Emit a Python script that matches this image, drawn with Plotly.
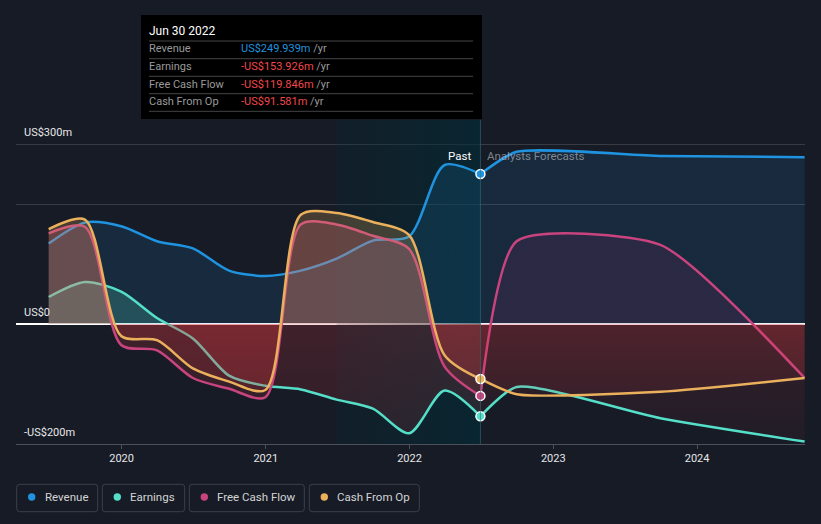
import plotly.graph_objects as go

# ---------------- data ----------------
PAST_DATES = ["2019-06-30", "2019-09-30", "2019-12-31", "2020-03-31", "2020-06-30",
              "2020-09-30", "2020-12-31", "2021-03-31", "2021-06-30", "2021-09-30",
              "2021-12-31", "2022-03-31", "2022-06-30"]
FORECAST_DATES = ["2022-06-30", "2022-09-30", "2023-09-30", "2024-09-30"]

REVENUE_PAST = [134, 169, 163, 138, 126, 89, 80, 89, 109, 139, 146, 265, 249.939]
EARNINGS_PAST = [45, 70, 54, 10, -24, -86, -103, -109, -126, -141, -182, -111, -153.926]
FCF_PAST = [151, 162, -35, -44, -90, -108, -122, 166, 166, 147, 125, -71, -119.846]
CFO_PAST = [158, 174, -20, -27, -74, -96, -110, 182, 185, 170, 148, -52, -91.581]

REVENUE_FC = [249.939, 287, 280, 278]
EARNINGS_FC = [-153.926, -105, -157, -196]
FCF_FC = [-119.846, 138, 132, -90]
CFO_FC = [-91.581, -117, -113, -90]

SERIES_NAMES = ["Revenue", "Earnings", "Free Cash Flow", "Cash From Op"]
Y_TICK_VALUES = [300, 0, -200]
Y_TICK_LABELS = ["US$300m", "US$0", "-US$200m"]
Y_GRID_VALUES = [200, 300]
X_TICK_VALUES = ["2020-01-01", "2021-01-01", "2022-01-01", "2023-01-01", "2024-01-01"]
X_TICK_LABELS = ["2020", "2021", "2022", "2023", "2024"]
TOOLTIP_DATE = "Jun 30 2022"

# ---------------- style ----------------
W, H = 821, 524
PLOT_L, PLOT_R, PLOT_T, PLOT_B = 16, 805, 120, 444
Y_MIN, Y_MAX = -200, 340
X_RANGE = ["2019-04-08", "2024-10-01"]
BG = "#161b26"
FONT = "Roboto, 'Open Sans', sans-serif"
LINE_COLORS = ["#1f93df", "#55dfc8", "#c9447f", "#ebb05c"]
POS_RGB = [(35, 148, 223), (82, 227, 201), (208, 69, 127), (239, 177, 90)]
FC_POS_RGB = [(35, 148, 223), (82, 227, 201), (150, 40, 110), (239, 177, 90)]
NEG_RGB = (225, 55, 60)
NEG_COLOR_TEXT = "#f2474a"


def rgba(c, a):
    return f"rgba({c[0]},{c[1]},{c[2]},{a})"


Z = (0 - Y_MIN) / (Y_MAX - Y_MIN)


def grad(pos, pa, neg_zero, neg_bottom):
    return dict(type="vertical", start=Y_MIN, stop=Y_MAX, colorscale=[
        [0, rgba(NEG_RGB, neg_bottom)],
        [Z, rgba(NEG_RGB, neg_zero)],
        [Z + 0.0001, rgba(pos, pa)],
        [1, rgba(pos, pa)],
    ])


def px(x):
    return (x - PLOT_L) / (PLOT_R - PLOT_L)


def py(y):
    return (PLOT_B - y) / (PLOT_B - PLOT_T)


def rounded_rect(x0, y0, x1, y1, r):
    pts = [("M", x0 + r, y0), ("L", x1 - r, y0), ("Q", x1, y0, x1, y0 + r),
           ("L", x1, y1 - r), ("Q", x1, y1, x1 - r, y1), ("L", x0 + r, y1),
           ("Q", x0, y1, x0, y1 - r), ("L", x0, y0 + r), ("Q", x0, y0, x0 + r, y0)]
    s = ""
    for p in pts:
        cmd = p[0]
        coords = p[1:]
        parts = []
        for i in range(0, len(coords), 2):
            parts.append(f"{px(coords[i]):.5f},{py(coords[i + 1]):.5f}")
        s += cmd + " " + " ".join(parts) + " "
    return s + "Z"


past = [REVENUE_PAST, EARNINGS_PAST, FCF_PAST, CFO_PAST]
fc = [REVENUE_FC, EARNINGS_FC, FCF_FC, CFO_FC]

fig = go.Figure()

# highlighted past-year band
band_x0, band_x1 = PAST_DATES[-5], PAST_DATES[-1]
fig.add_trace(go.Scatter(
    x=[band_x0, band_x1, band_x1, band_x0, band_x0],
    y=[Y_MIN, Y_MIN, Y_MAX, Y_MAX, Y_MIN],
    mode="none", fill="toself", hoverinfo="skip", showlegend=False,
    fillgradient=dict(type="horizontal", colorscale=[
        [0, "rgba(0,45,55,0.18)"], [1, "rgba(0,45,55,0.6)"]]),
))

past_alpha = [0.13, 0.2, 0.22, 0.22]
for i in range(4):
    fig.add_trace(go.Scatter(
        x=PAST_DATES, y=past[i], mode="lines", fill="tozeroy",
        line=dict(color=LINE_COLORS[i], width=2.5, shape="spline", smoothing=0.8),
        fillgradient=grad(POS_RGB[i], past_alpha[i], 0.2, 0.12),
        hoverinfo="skip", showlegend=False,
    ))

fc_alpha = [0.12, 0.12, 0.15, 0.12]
for i in range(4):
    fig.add_trace(go.Scatter(
        x=FORECAST_DATES, y=fc[i], mode="lines", fill="tozeroy",
        line=dict(color=LINE_COLORS[i], width=2.5, shape="spline", smoothing=0.6),
        fillgradient=grad(FC_POS_RGB[i], fc_alpha[i], 0.15, 0.05),
        hoverinfo="skip", showlegend=False,
    ))

for i in range(4):
    fig.add_trace(go.Scatter(
        x=[PAST_DATES[-1]], y=[past[i][-1]], mode="markers",
        marker=dict(color=LINE_COLORS[i], size=9, line=dict(color="white", width=1.5)),
        hoverinfo="skip", showlegend=False,
    ))

shapes = []
annotations = []

# current-date vertical line
shapes.append(dict(type="line", xref="x", yref="paper", x0=PAST_DATES[-1], x1=PAST_DATES[-1],
                   y0=0, y1=1, line=dict(color="rgba(50,110,130,0.6)", width=1), layer="above"))

# y labels
for v, t in zip(Y_TICK_VALUES, Y_TICK_LABELS):
    annotations.append(dict(x=px(22), xref="paper", y=v, yref="y", text=t, showarrow=False,
                            xanchor="left", yanchor="middle", yshift=12,
                            font=dict(color="#e8e8e8", size=11, family=FONT)))

# Past / Analysts Forecasts labels
annotations.append(dict(x=PAST_DATES[-1], xref="x", y=280, yref="y", text="Past", showarrow=False,
                        xanchor="right", yanchor="middle", xshift=-7,
                        font=dict(color="#ffffff", size=11.5, family=FONT)))
annotations.append(dict(x=PAST_DATES[-1], xref="x", y=280, yref="y", text="Analysts Forecasts",
                        showarrow=False, xanchor="left", yanchor="middle", xshift=5,
                        font=dict(color="rgba(200,200,205,0.6)", size=11.5, family=FONT)))

# tooltip
shapes.append(dict(type="rect", xref="paper", yref="paper", x0=px(141), x1=px(482),
                   y0=py(119), y1=py(15), fillcolor="#000000", line=dict(width=0), layer="above"))
annotations.append(dict(x=px(147), xref="paper", y=py(31), yref="paper", text=TOOLTIP_DATE,
                        showarrow=False, xanchor="left", yanchor="middle",
                        font=dict(color="#ffffff", size=12, family=FONT)))
row_y = [49, 66.7, 84.3, 101.3]
sep_y = [41, 58.7, 76.3, 93.7, 111.3]
for yy in sep_y:
    shapes.append(dict(type="line", xref="paper", yref="paper", x0=px(149), x1=px(473),
                       y0=py(yy), y1=py(yy), line=dict(color="#444444", width=1), layer="above"))
for i in range(4):
    v = past[i][-1]
    txt = ("-" if v < 0 else "") + f"US${abs(v):.3f}m"
    col = LINE_COLORS[0] if v >= 0 else NEG_COLOR_TEXT
    annotations.append(dict(x=px(147), xref="paper", y=py(row_y[i]), yref="paper",
                            text=SERIES_NAMES[i], showarrow=False, xanchor="left", yanchor="middle",
                            font=dict(color="#9a9a9a", size=11, family=FONT)))
    annotations.append(dict(x=px(239), xref="paper", y=py(row_y[i]), yref="paper",
                            text=f"<span style='color:{col}'>{txt}</span> /yr", showarrow=False,
                            xanchor="left", yanchor="middle",
                            font=dict(color="#9a9a9a", size=11, family=FONT)))

# legend
boxes = [(16.7, 97.7), (102.3, 184.7), (189.3, 304.3), (309.3, 419.3)]
for i, (x0, x1) in enumerate(boxes):
    shapes.append(dict(type="path", xref="paper", yref="paper",
                       path=rounded_rect(x0, 484.3, x1, 511.7, 3),
                       line=dict(color="#3b404a", width=1), fillcolor=BG, layer="above"))
    cx, cy, r = x0 + 15, 497, 3.7
    shapes.append(dict(type="circle", xref="paper", yref="paper", x0=px(cx - r), x1=px(cx + r),
                       y0=py(cy + r), y1=py(cy - r), fillcolor=LINE_COLORS[i],
                       line=dict(width=0), layer="above"))
    annotations.append(dict(x=px(x0 + 26), xref="paper", y=py(496.5), yref="paper",
                            text=SERIES_NAMES[i], showarrow=False, xanchor="left", yanchor="middle",
                            font=dict(color="#d4d4d4", size=11.5, family=FONT)))

fig.update_layout(
    width=W, height=H,
    margin=dict(l=PLOT_L, r=W - PLOT_R, t=PLOT_T, b=H - PLOT_B),
    paper_bgcolor=BG, plot_bgcolor=BG,
    showlegend=False, hovermode=False,
    font=dict(family=FONT, color="#e0e0e0"),
    shapes=shapes, annotations=annotations,
    xaxis=dict(type="date", range=X_RANGE, showgrid=False, zeroline=False,
               showline=True, linecolor="#4b5059", linewidth=1,
               ticks="outside", ticklen=4, tickcolor="#4b5059",
               tickvals=X_TICK_VALUES, ticktext=X_TICK_LABELS,
               tickfont=dict(color="#e6e6e6", size=11, family=FONT), fixedrange=True),
    yaxis=dict(range=[Y_MIN, Y_MAX], tickvals=Y_GRID_VALUES, showticklabels=False,
               showgrid=True, gridcolor="rgba(255,255,255,0.14)", gridwidth=1,
               zeroline=True, zerolinecolor="#ffffff", zerolinewidth=1.2,
               showline=False, fixedrange=True),
)

fig.write_html("out.html", config=dict(displayModeBar=False, staticPlot=True),
               post_script="document.body.style.margin='0';document.body.style.background='%s';" % BG)
